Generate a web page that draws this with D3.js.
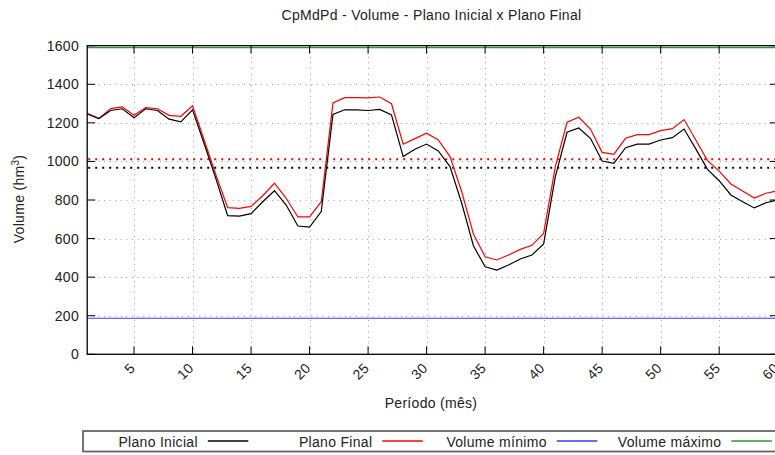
<!DOCTYPE html>
<html><head><meta charset="utf-8">
<script src="https://cdn.jsdelivr.net/npm/d3@7"></script>
<style>
body{margin:0;background:#fff;}
svg text{font-family:"Liberation Sans",Arial,Helvetica,sans-serif;font-size:14px;letter-spacing:0.3px;fill:#222;}
</style></head>
<body>
<svg id="c" width="775" height="455"></svg>
<script>
const periodos = d3.range(1, 61);
const planoInicial = [1246,1222,1264,1273,1227,1273,1264,1219,1205,1267,
  1090,910,719,716,729,791,848,774,665,660,
  740,1244,1268,1267,1264,1270,1241,1025,1063,1090,
  1054,973,783,563,454,437,463,494,515,572,
  921,1151,1173,1120,1002,990,1071,1090,1090,1111,
  1123,1168,1065,959,900,826,791,759,786,800];
const planoFinal = [1250,1222,1274,1283,1239,1279,1273,1239,1234,1289,
  1110,930,760,757,767,822,887,809,712,712,
  791,1303,1331,1331,1329,1334,1299,1089,1118,1146,
  1111,1025,843,624,506,489,515,544,565,627,
  973,1203,1229,1168,1047,1037,1120,1139,1139,1160,
  1170,1217,1111,1004,950,883,847,810,835,847];
const volumeMinimo = 187;
const volumeMaximo = 1590;
const mediaInicial = 967;
const mediaFinal = 1011;
const yTicks = [0,200,400,600,800,1000,1200,1400,1600];
const xTicks = [5,10,15,20,25,30,35,40,45,50,55,60];
const legendLabels = ["Plano Inicial","Plano Final","Volume mínimo","Volume máximo"];
const legendColors = ["#000000","#ff0000","#3a3aff","#2e9a2e"];

const L = 87.2, R = 777.7, T = 45.7, B = 354.3;
const svg = d3.select("#c");
const x = d3.scaleLinear().domain([1,60]).range([L,R]);
const y = d3.scaleLinear().domain([0,1600]).range([B,T]);

// grid
const grid = svg.append("g").attr("stroke","#a0a0a0").attr("stroke-width",1).attr("stroke-dasharray","1,4.6");
grid.selectAll("line.gy").data(yTicks.filter(v=>v>0&&v<1600)).join("line").attr("class","gy")
  .attr("x1",L).attr("x2",R).attr("y1",d=>Math.round(y(d))+0.5).attr("y2",d=>Math.round(y(d))+0.5);
grid.selectAll("line.gx").data(xTicks.filter(v=>v<60)).join("line").attr("class","gx")
  .attr("y1",T).attr("y2",B).attr("x1",d=>Math.round(x(d))+0.5).attr("x2",d=>Math.round(x(d))+0.5);

// reference lines
svg.append("line").attr("x1",L).attr("x2",R).attr("y1",y(volumeMaximo)).attr("y2",y(volumeMaximo))
  .style("stroke",legendColors[3]).style("stroke-width",1.2);
svg.append("line").attr("x1",L).attr("x2",R).attr("y1",y(volumeMinimo)).attr("y2",y(volumeMinimo))
  .style("stroke",legendColors[2]).style("stroke-width",1.2);
svg.append("line").attr("x1",L+1).attr("x2",R).attr("y1",y(mediaFinal)).attr("y2",y(mediaFinal))
  .style("stroke",legendColors[1]).style("stroke-width",2).attr("stroke-dasharray","2,5");
svg.append("line").attr("x1",L+1).attr("x2",R).attr("y1",y(mediaInicial)).attr("y2",y(mediaInicial))
  .style("stroke",legendColors[0]).style("stroke-width",2).attr("stroke-dasharray","2,5");

// series
const line = d3.line().x((d,i)=>x(periodos[i])).y(d=>y(d));
svg.append("path").datum(planoFinal).attr("d",line).attr("fill","none").style("stroke",legendColors[1]).style("stroke-width",1.2);
svg.append("path").datum(planoInicial).attr("d",line).attr("fill","none").style("stroke",legendColors[0]).style("stroke-width",1.2);

// frame
svg.append("rect").attr("x",L).attr("y",T).attr("width",R-L).attr("height",B-T)
  .attr("fill","none").attr("stroke","#000").attr("stroke-width",1.3);

// ticks
const tk = svg.append("g").attr("stroke","#000").attr("stroke-width",1);
tk.selectAll("line.yl").data(yTicks).join("line").attr("class","yl").attr("x1",L).attr("x2",L+8).attr("y1",d=>y(d)).attr("y2",d=>y(d));
tk.selectAll("line.yr").data(yTicks).join("line").attr("class","yr").attr("x1",R).attr("x2",R-8).attr("y1",d=>y(d)).attr("y2",d=>y(d));
tk.selectAll("line.xb").data(xTicks).join("line").attr("class","xb").attr("x1",d=>x(d)).attr("x2",d=>x(d)).attr("y1",B).attr("y2",B-8);
tk.selectAll("line.xt").data(xTicks).join("line").attr("class","xt").attr("x1",d=>x(d)).attr("x2",d=>x(d)).attr("y1",T).attr("y2",T+8);

// tick labels
svg.selectAll("text.ytl").data(yTicks).join("text").attr("class","ytl").attr("x",79).attr("y",d=>y(d)+5)
  .attr("text-anchor","end").text(d=>d);
svg.selectAll("text.xtl").data(xTicks).join("text").attr("class","xtl")
  .attr("transform",d=>`translate(${x(d)-1.5},${365.5}) rotate(-45)`)
  .attr("text-anchor","end").attr("dy","0.35em").text(d=>d);

// titles
svg.append("text").attr("x",431.5).attr("y",19.5).attr("text-anchor","middle").text("CpMdPd - Volume - Plano Inicial x Plano Final");
svg.append("text").attr("x",431).attr("y",408).attr("text-anchor","middle").text("Período (mês)");
const yl = svg.append("text").attr("transform","translate(23.5,199) rotate(-90)").attr("text-anchor","middle");
yl.append("tspan").text("Volume (hm");
yl.append("tspan").attr("dy","-5").attr("font-size","10px").text("3");
yl.append("tspan").attr("dy","5").text(")");

// legend
svg.append("rect").attr("x",83).attr("y",431).attr("width",720).attr("height",20.5)
  .attr("fill","none").attr("stroke","#666").attr("stroke-width",1.8);
legendLabels.forEach((lab, i) => {
  const g = svg.append("g").attr("transform",`translate(${197.8 + i*174.5},0)`);
  g.append("text").attr("x",0).attr("y",446.5).attr("text-anchor","end").text(lab);
  g.append("line").attr("x1",10).attr("x2",50.5).attr("y1",441).attr("y2",441)
    .style("stroke",legendColors[i]).style("stroke-width",1.3);
});
</script>
</body></html>
